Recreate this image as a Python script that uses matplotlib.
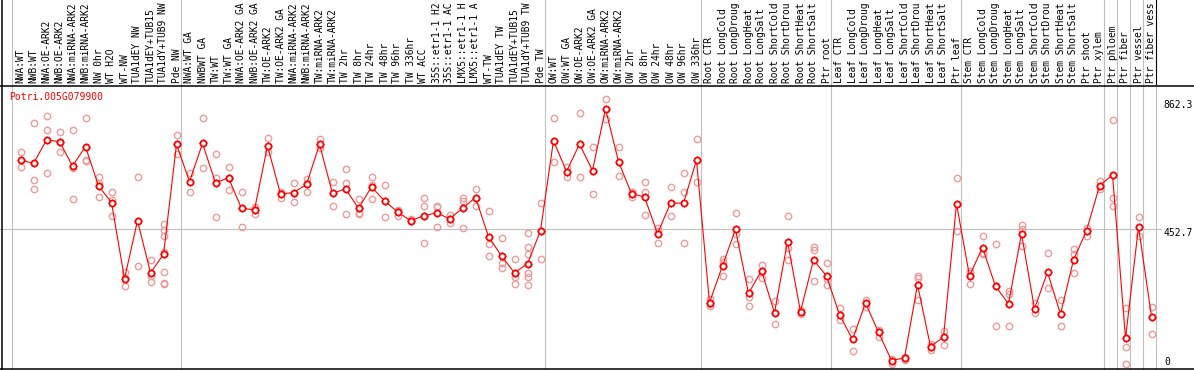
import matplotlib
matplotlib.use('Agg')
import matplotlib.pyplot as plt
from matplotlib.lines import Line2D

gene = 'Potri.005G079900'

# labels as they show in the header (long ones are cut at 14 characters)
samples = [
    'NWA:WT', 'NWB:WT', 'NWA:OE-ARK2', 'NWB:OE-ARK2', 'NWA:miRNA-ARK2', 'NWB:miRNA-ARK2',
    'NW 0hr', 'WT H2O', 'WT-NW', 'TUA1dEY NW', 'TUA1dEY+TUB15', 'TUA1dY+TUB9 NW', 'Pde NW',
    'NWA:WT GA', 'NWBWT GA', 'TW:WT', 'TW:WT GA', 'NWA:OE-ARK2 GA', 'NWB:OE-ARK2 GA',
    'TW:OE-ARK2', 'TW:OE-ARK2 GA', 'NWA:miRNA-ARK2', 'NWB:miRNA-ARK2', 'TW:miRNA-ARK2',
    'TW:miRNA-ARK2', 'TW 2hr', 'TW 8hr', 'TW 24hr', 'TW 48hr', 'TW 96hr', 'TW 336hr',
    'WT ACC', '35S::etr1-1 H2', '35S::etr1-1 AC', 'LMX5::etr1-1 H', 'LMX5::etr1-1 A',
    'WT-TW', 'TUA1dEY TW', 'TUA1dEY+TUB15', 'TUA1dY+TUB9 TW', 'Pde TW',
    'OW:WT', 'OW:WT GA', 'OW:OE-ARK2', 'OW:OE-ARK2 GA', 'OW:miRNA-ARK2', 'OW:miRNA-ARK2',
    'OW 2hr', 'OW 8hr', 'OW 24hr', 'OW 48hr', 'OW 96hr', 'OW 336hr',
    'Root CTR', 'Root LongCold', 'Root LongDroug', 'Root LongHeat', 'Root LongSalt',
    'Root ShortCold', 'Root ShortDrou', 'Root ShortHeat', 'Root ShortSalt', 'Ptr root',
    'Leaf CTR', 'Leaf LongCold', 'Leaf LongDroug', 'Leaf LongHeat', 'Leaf LongSalt',
    'Leaf ShortCold', 'Leaf ShortDrou', 'Leaf ShortHeat', 'Leaf ShortSalt', 'Ptr leaf',
    'Stem CTR', 'Stem LongCold', 'Stem LongDroug', 'Stem LongHeat', 'Stem LongSalt',
    'Stem ShortCold', 'Stem ShortDrou', 'Stem ShortHeat', 'Stem ShortSalt', 'Ptr shoot',
    'Ptr xylem', 'Ptr phloem', 'Ptr fiber', 'Ptr vessel', 'Ptr fiber vess',
]

means = [
    672, 661, 736, 731, 653, 715, 589, 536, 292, 478, 311, 370, 722,
    603, 725, 599, 615, 517, 513, 717, 563, 568, 594, 722, 565, 580, 517, 586, 541, 506,
    478, 493, 503, 484, 517, 552, 427, 365, 311, 340, 446,
    734, 635, 723, 638, 836, 667, 564, 554, 436, 534, 534, 672,
    215, 334, 450, 245, 318, 183, 411, 187, 352, 301,
    177, 98, 214, 121, 30, 39, 273, 75, 106, 532,
    301, 392, 268, 212, 436, 196, 313, 179, 352, 446,
    589, 625, 101, 458, 171,
]

reps = [
    [699, 650], [789, 609, 580], [813, 769, 632], [762, 698, 731], [769, 647, 546],
    [805, 669, 672], [619, 598, 554], [571, 545, 493], [313, 268, 295], [619, 334],
    [352, 282, 300], [468, 449, 428, 378, 313, 279, 276], [753, 690],
    [632, 570], [805, 647], [690, 615, 491], [650, 577, 615], [571, 459], [521, 500, 518],
    [741, 698], [571, 551, 566], [597, 539], [612, 570, 600], [738, 711, 720], [603, 525],
    [642, 597, 500], [546, 504, 500], [619, 546, 592], [593, 490], [513, 493, 510],
    [483, 476], [550, 525, 407], [525, 521, 459], [496, 470], [550, 542, 453], [578, 525],
    [509, 402, 366], [421, 344, 327], [356, 299, 276], [439, 393, 372, 310, 299, 273],
    [536, 356],
    [805, 667], [651, 617], [821, 618], [715, 562], [866, 803], [715, 622],
    [571, 569, 555], [603, 570, 497], [456, 406, 446], [586, 493], [632, 570, 407], [740, 603],
    [228, 211, 206], [356, 347, 301], [504, 435, 404], [292, 235, 206], [337, 295],
    [222, 146], [493, 389, 353], [193, 178], [395, 385, 285], [341, 292, 273],
    [200, 160], [130, 61], [225, 203], [129, 105], [36, 20], [43, 33], [300, 294, 225],
    [65, 78, 82], [126, 81], [614, 445],
    [316, 276, 310], [430, 372, 375], [402, 141], [254, 242, 141], [465, 452, 398],
    [214, 182], [375, 261], [225, 141], [388, 372, 312], [454, 430],
    [606, 579], [801, 551, 524], [199, 74, 20], [490, 430], [201, 116],
]

group_starts = [0, 13, 41, 53, 63, 73, 84, 85, 86, 87, 88]
tick_vals = [862.3, 452.7]

W, H = 1194, 370
head = 85
mono = 'DejaVu Sans Mono'
grey = '#c0c0c0'

fig = plt.figure(figsize=(W / 100, H / 100), dpi=100)
ax = fig.add_axes([0, 0, 1, (H - head) / H])
hx = fig.add_axes([0, (H - head) / H, 1, head / H])

x0, step = 20.5, 13.0
xlim = (-x0 / step, (W - x0) / step)
for a in (ax, hx):
    a.set_xlim(*xlim)
    a.axis('off')
ax.set_ylim(0, 912)
hx.set_ylim(0, 1)

# group separators
for g in group_starts:
    ax.axvline(g - 0.69, color=grey, lw=0.8, zorder=1)
    hx.axvline(g - 0.69, color='black' if g == group_starts[-1] else grey, lw=0.8)

ax.axhline(452.7, xmin=0, xmax=1161 / W, color=grey, lw=0.8, zorder=1)

# replicates
for i, r in enumerate(reps):
    ax.plot([i] * len(r), r, ls='none', marker='o', ms=4.6, mfc='none',
            mec='#f09a9a', mew=1.0, zorder=2)

# mean line + markers
xs = list(range(len(means)))
ax.plot(xs, means, color='red', lw=0.8, zorder=3)
ax.plot(xs, means, ls='none', marker='+', ms=6.2, mew=0.8, color='red', zorder=4)
ax.plot(xs, means, ls='none', marker='o', ms=4.4, mfc='white', mec='red', mew=1.3, zorder=5)

# sample labels
for i, s in enumerate(samples):
    hx.text(i, 2 / head, s, rotation=90, ha='center', va='bottom', fontsize=6.9, family=mono)

fig.text(9 / W, (H - 97) / H, gene, color='red', fontsize=7, family=mono, va='center')

for v in tick_vals:
    yp = 370 - v * 285 / 912
    fig.text(1163 / W, (H - yp - 4.5) / H, f'{v:.1f}', fontsize=7, family=mono, va='center')
fig.text(1164 / W, (H - 362) / H, '0', fontsize=7, family=mono, va='center')

# frame lines
fig.add_artist(Line2D([1.5 / W, 1.5 / W], [0, 1], color='black', lw=1.1))
fig.add_artist(Line2D([0, 1], [0.8 / H, 0.8 / H], color='black', lw=1.1))
fig.add_artist(Line2D([0, 1], [(H - head - 0.5) / H] * 2, color='black', lw=1.1))

fig.savefig('out.png', dpi=100)
